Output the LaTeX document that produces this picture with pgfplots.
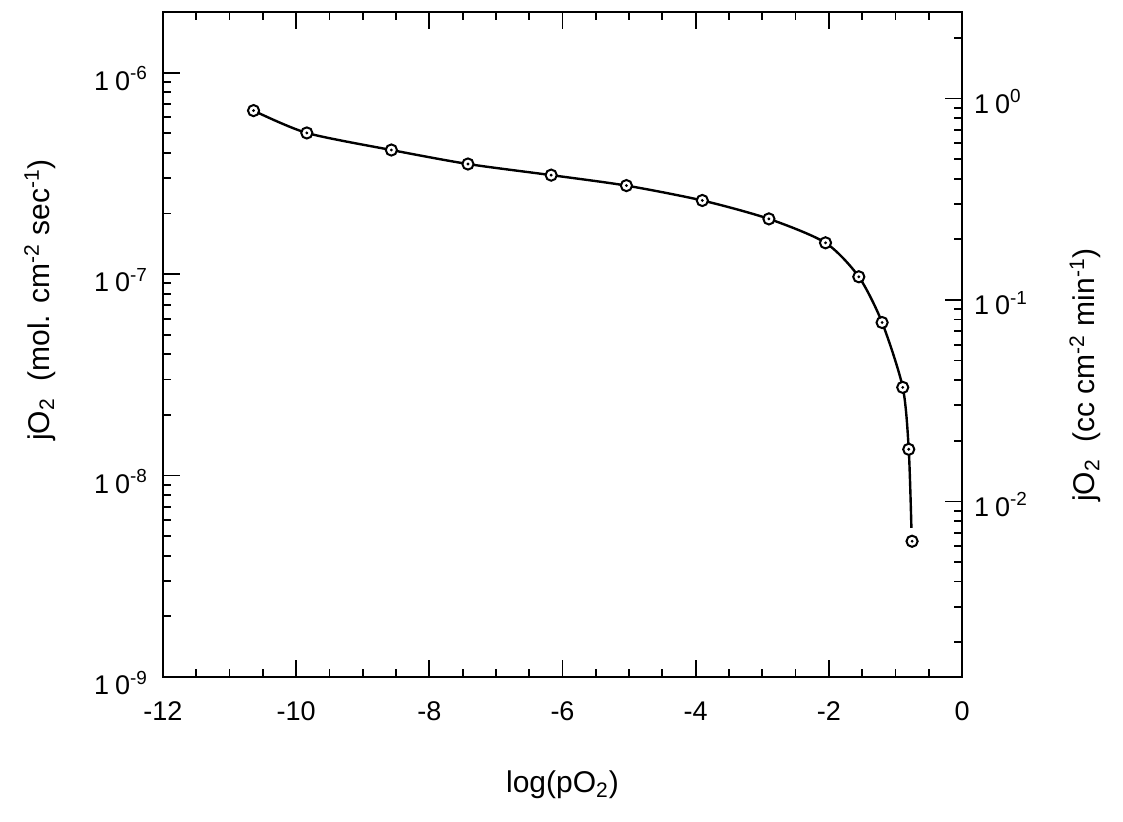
\documentclass[border=0pt]{standalone}
\usepackage{fontspec}
\setmainfont{Liberation Sans}
\usepackage{pgfplots}
\pgfplotsset{compat=1.18}
\usetikzlibrary{calc}

\pgfplotstableread{
x y
-10.64 6.48e-7
-9.84 5.02e-7
-8.57 4.13e-7
-7.42 3.52e-7
-6.17 3.10e-7
-5.04 2.75e-7
-3.90 2.32e-7
-2.90 1.88e-7
-2.05 1.43e-7
-1.55 9.7e-8
-1.20 5.75e-8
-0.89 2.74e-8
-0.80 1.35e-8
-0.75 4.72e-9
}\pts

\pgfplotstableread{
x y
-10.64 6.48e-7
-9.84 5.02e-7
-8.57 4.13e-7
-7.42 3.52e-7
-6.17 3.10e-7
-5.04 2.75e-7
-3.90 2.32e-7
-2.90 1.88e-7
-2.05 1.43e-7
-1.55 9.7e-8
-1.20 5.75e-8
-0.89 2.74e-8
-0.80 1.35e-8
-0.76 5.5e-9
}\curve

\newcommand{\tl}[1]{1\kern0.22em0\textsuperscript{#1}}

\begin{document}
\begin{tikzpicture}
\pgfplotsset{
  common/.style={
    scale only axis, width=399.5pt, height=332.5pt,
    xmin=-12, xmax=0,
    tick align=inside,
    major tick length=8.5pt, minor tick length=4pt,
    every tick/.style={black, line width=0.9pt},
    axis line style={line width=1.4pt},
    tick label style={font=\fontsize{13.5}{16}\selectfont},
    label style={font=\fontsize{15}{18}\selectfont},
    /pgf/number format/assume math mode=true,
  }
}
\begin{axis}[common, name=main,
  ymode=log, ymin=1e-9, ymax=2e-6,
  xtick={-12,-10,...,0}, minor x tick num=3,
  xtick pos=both, ytick pos=left,
  xticklabel shift=9pt,
  ytick={1e-9,1e-8,1e-7,1e-6},
  yticklabels={\tl{-9},\tl{-8},\tl{-7},\tl{-6}},
  minor ytick={2e-9,3e-9,4e-9,5e-9,6e-9,7e-9,8e-9,9e-9,
               2e-8,3e-8,4e-8,5e-8,6e-8,7e-8,8e-8,9e-8,
               2e-7,3e-7,4e-7,5e-7,6e-7,7e-7,8e-7,9e-7,2e-6},
  yticklabel shift=4pt,
  yticklabel style={yshift=-3pt},
  xlabel={log(pO\textsubscript{2})},
  xlabel style={at={(axis description cs:0.5,-0.174)}, anchor=base},
  ylabel={jO\textsubscript{2}\ \ (mol. cm\textsuperscript{-2} sec\textsuperscript{-1})},
  ylabel style={at={(axis description cs:-0.154,0.567)}, anchor=center, rotate=0},
]
\addplot[black, line width=1.2pt, smooth, tension=0.45] table[x=x,y=y] {\curve};
\addplot[only marks, mark=*, mark size=2.8pt, mark options={fill=white, draw=black, line width=1pt}] table[x=x,y=y] {\pts};
\addplot[only marks, mark=*, mark size=0.5pt, mark options={fill=black, draw=black}] table[x=x,y=y] {\pts};
\end{axis}
\begin{axis}[common,
  ymode=log, ymin=1.344e-3, ymax=2.688,
  axis x line=none, axis y line*=right,
  y axis line style={-},
  ytick={1e-2,1e-1,1},
  yticklabels={\tl{-2},\tl{-1},\tl{0}},
  minor ytick={2e-3,3e-3,4e-3,5e-3,6e-3,7e-3,8e-3,9e-3,
               2e-2,3e-2,4e-2,5e-2,6e-2,7e-2,8e-2,9e-2,
               2e-1,3e-1,4e-1,5e-1,6e-1,7e-1,8e-1,9e-1,2},
  ytick pos=right, yticklabel pos=right,
  yticklabel shift=2.5pt,
  yticklabel style={yshift=-1.5pt},
  ylabel={jO\textsubscript{2}\ \ (cc cm\textsuperscript{-2} min\textsuperscript{-1})},
  ylabel style={at={(axis description cs:1.154,0.454)}, anchor=center, rotate=0},
]
\end{axis}
\pgfresetboundingbox
\useasboundingbox ($(main.south west)+(-81.5pt,-72.5pt)$) rectangle ($(main.north east)+(80.5pt,6pt)$);
\end{tikzpicture}
\end{document}
